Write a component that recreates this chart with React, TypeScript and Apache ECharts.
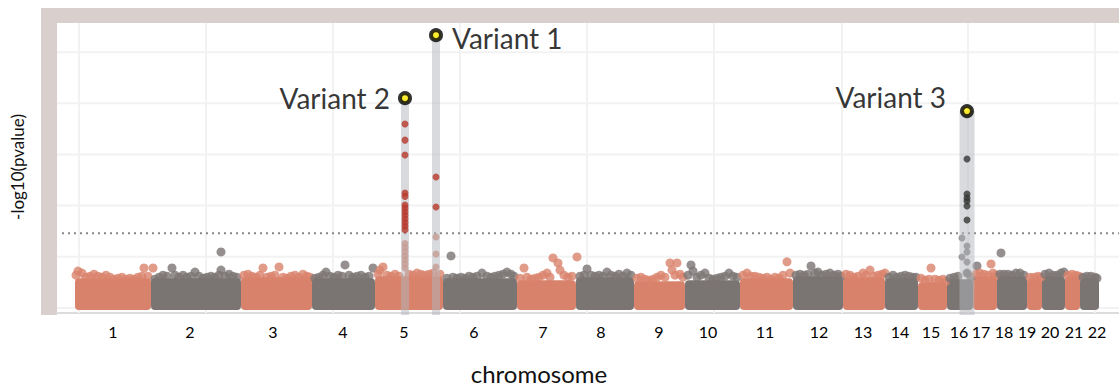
import React, { useEffect, useRef } from 'react';
import * as echarts from 'echarts';

// ---------- data (x = cumulative genome position in plot units, y = -log10(p)) ----------
const chromNames = ['1','2','3','4','5','6','7','8','9','10','11','12','13','14','15','16','17','18','19','20','21','22'];
const chromStart = [18,94,184,255,318,386,460,519,577,628,683,736,786,828,861,890,916,940,970,985,1008,1023];
const chromEnd = [94,184,255,318,386,460,519,577,628,683,736,786,828,861,890,916,940,970,985,1008,1023,1042];
// upper edge of the dense cloud of non-significant SNPs per chromosome
const chromBodyTop = [2.9,2.9,3.0,2.9,3.1,2.9,2.7,3.0,2.6,2.7,2.9,3.1,3.0,2.9,2.5,2.8,3.1,3.1,2.9,3.1,3.1,2.9];
const tickPos = [56,133,216,286,347,417,486,544,602,651,708,762,806,843,874,902,924,947,970,993,1017,1040];

// SNPs forming the ragged top of the cloud and standing out of it, per chromosome
const chromPoints: number[][][] = [
  [[19,3.2],[21,3.6],[25,3.4],[29,3.0],[33,3.1],[37,3.3],[41,3.1],[45,3.0],[49,3.2],[53,3.0],[57,2.8],[61,2.9],[65,3.0],[69,2.8],[73,2.9],[77,2.8],[81,3.0],[85,3.1],[87,3.9],[91,3.1],[96,3.9]],
  [[98,2.8],[102,3.0],[106,3.2],[110,3.1],[115,3.9],[118,3.2],[122,3.0],[126,3.2],[130,3.0],[134,3.1],[138,3.5],[142,3.1],[146,2.9],[150,3.0],[154,3.1],[158,3.0],[162,3.2],[164,3.7],[164,5.47],[168,3.1],[172,3.3],[176,3.1],[180,3.0]],
  [[187,3.2],[191,3.3],[195,3.1],[199,3.0],[203,3.2],[206,3.9],[210,3.0],[214,3.1],[218,3.2],[222,4.0],[226,3.0],[230,2.9],[234,3.1],[238,3.2],[242,3.0],[246,3.3],[250,3.1],[253,3.0]],
  [[258,2.9],[262,3.0],[266,3.2],[269,3.5],[273,3.1],[277,3.0],[281,3.2],[285,3.1],[288,4.2],[292,3.2],[296,3.0],[300,3.1],[304,3.2],[308,3.0],[312,3.1],[316,3.9]],
  [[321,3.3],[323,3.7],[326,4.0],[330,3.2],[334,3.1],[338,3.3],[342,3.1],[352,3.3],[356,3.2],[360,3.4],[364,3.3],[368,3.2],[372,3.3],[376,3.4],[383,3.3]],
  [[390,2.9],[394,5.08],[396,3.0],[400,2.9],[404,3.0],[408,2.9],[412,3.1],[416,3.0],[420,3.1],[425,3.4],[430,3.1],[434,3.0],[438,3.1],[442,3.2],[446,3.3],[450,3.5],[454,3.3],[457,3.1]],
  [[463,2.9],[467,3.9],[470,3.0],[474,2.8],[478,2.9],[482,3.0],[486,3.2],[490,3.4],[493,3.0],[496,4.88],[501,4.4],[503,3.7],[507,3.2],[511,3.0],[515,3.1],[520,4.98]],
  [[523,3.1],[527,3.2],[530,3.8],[534,3.2],[538,3.1],[542,3.2],[546,3.1],[550,3.5],[554,3.2],[558,3.1],[562,3.3],[566,3.1],[570,3.4],[574,3.2]],
  [[580,2.9],[584,3.0],[588,2.8],[592,2.7],[596,2.8],[600,3.0],[604,3.2],[608,3.0],[613,4.4],[615,3.7],[620,4.4],[618,3.2],[623,3.3],[626,3.0]],
  [[631,3.2],[634,4.2],[636,3.6],[640,3.0],[644,3.2],[648,3.4],[652,2.9],[656,2.8],[660,2.9],[664,3.0],[668,3.1],[672,3.4],[676,3.1],[680,3.0]],
  [[686,3.2],[690,3.4],[694,3.1],[698,3.1],[702,3.0],[706,2.9],[710,3.0],[714,2.8],[718,3.0],[722,2.9],[726,3.2],[730,4.5],[733,3.4]],
  [[739,3.2],[743,3.3],[747,3.2],[751,3.3],[754,4.1],[758,3.4],[761,3.5],[765,3.2],[769,3.3],[773,3.4],[777,3.2],[781,3.3],[784,3.1]],
  [[789,3.3],[793,3.2],[797,3.0],[801,3.1],[806,3.4],[809,3.2],[813,3.7],[817,3.1],[821,3.2],[825,3.3],[828,3.4]],
  [[832,3.0],[836,3.2],[840,3.0],[844,3.1],[848,3.2],[852,3.1],[856,3.0],[859,3.0]],
  [[864,2.9],[868,2.7],[872,2.8],[874,3.9],[878,2.8],[882,2.7],[886,2.8],[889,2.6]],
  [[893,2.9],[897,3.0],[901,3.1],[910,3.4],[914,3.0],[920,4.1]],
  [[919,3.3],[923,3.4],[927,3.3],[931,3.2],[934,4.3],[936,3.4],[939,3.2]],
  [[943,3.3],[944,5.37],[947,3.3],[951,3.3],[955,3.2],[959,3.4],[963,3.4],[967,3.2]],
  [[973,3.0],[977,3.0],[981,3.1],[984,3.0]],
  [[988,3.3],[992,3.4],[996,3.2],[1000,3.2],[1004,3.4],[1007,3.5]],
  [[1011,3.2],[1015,3.3],[1019,3.2],[1022,3.1]],
  [[1026,3.0],[1030,3.1],[1034,3.1],[1038,3.0],[1040,2.9]],
];

// sub-threshold SNPs inside the highlighted loci
const locusChr5Sub = [[348,6.3],[348,5.9],[348,5.5],[348,5.1],[348,4.7],[348,4.3],[348,3.9],[379,6.93],[379,5.27],[379,4.0]];
const locusChr16Sub = [[905,6.84],[910,6.05],[910,5.47],[905,4.98],[910,4.49],[910,3.4]];
// genome-wide significant SNPs
const sigChr5 = [[348,17.97],[348,16.4],[348,14.94],[348,11.23],[348,10.9],[348,10.06],[348,9.75],[348,9.4],[348,9.05],[348,8.7],[348,8.35],[348,8.0],[348,7.65],[379,12.79],[379,9.86]];
const sigChr16 = [[910,14.55],[910,11.13],[910,10.75],[910,10.45],[910,9.96],[910,8.59]];

const variantNames = ['Variant 1','Variant 2','Variant 3'];
const variantX = [379, 348, 910];
const variantY = [26.66, 20.5, 19.24];

const threshold = 7.3;
const gridX = [22,149,276,403,530,657,785,911,1038];
const gridY = [0,5,10,15,20,25];

// ---------- styles ----------
const ORANGE = '#d9826b';
const GREY = '#7a7473';
const RED = '#b8382c';
const DARK = '#363636';
const FRAME = '#d9d0cd';
const FONT = 'Lato, "Open Sans", sans-serif';
const BAND_W = [8, 8, 15];
const X_MIN = 0;
const X_MAX = 1062;
const Y_MIN = -0.5;
const Y_MAX = 27.85;
const BODY_BOTTOM = -0.2;
const BAND_BOTTOM = -0.7;
const THRESH_X0 = 5;

function chromColor(i: number) {
  return i % 2 === 0 ? ORANGE : GREY;
}

function buildOption(): any {
  const bodyData = chromStart.map((s, i) => [s, chromEnd[i], chromBodyTop[i], i]);
  const pointData: any[] = [];
  chromPoints.forEach((pts, i) => {
    pts.forEach((p) => pointData.push({ value: p, itemStyle: { color: chromColor(i) } }));
  });
  const subData: any[] = [
    ...locusChr5Sub.map((p) => ({ value: p, itemStyle: { color: ORANGE } })),
    ...locusChr16Sub.map((p) => ({ value: p, itemStyle: { color: GREY } })),
  ];
  const sigData: any[] = [
    ...sigChr5.map((p) => ({ value: p, itemStyle: { color: RED } })),
    ...sigChr16.map((p) => ({ value: p, itemStyle: { color: DARK } })),
  ];
  const labelPos: any[] = [
    { position: 'right', distance: 9, offset: [0, 3] },
    { position: 'left', distance: 8, offset: [0, 0] },
    { position: 'left', distance: 14, offset: [0, -14] },
  ];
  const variantData = variantX.map((x, i) => ({
    value: [x, variantY[i]],
    name: variantNames[i],
    label: {
      show: true,
      formatter: variantNames[i],
      position: labelPos[i].position,
      distance: labelPos[i].distance,
      offset: labelPos[i].offset,
      fontFamily: FONT,
      fontSize: 28,
      color: '#000',
    },
  }));

  const gridLineData = [
    ...gridX.map((x) => [0, x]),
    ...gridY.map((y) => [1, y]),
  ];

  return {
    animation: false,
    grid: { left: 57, right: 0, top: 23, bottom: 73 },
    xAxis: {
      type: 'value',
      min: X_MIN,
      max: X_MAX,
      axisLine: { show: true, onZero: false, lineStyle: { color: '#dcdcdc', width: 2 } },
      axisTick: { show: false },
      splitLine: { show: false },
      axisLabel: {
        customValues: tickPos,
        formatter: (v: number) => {
          let best = 0;
          tickPos.forEach((t, i) => {
            if (Math.abs(t - v) < Math.abs(tickPos[best] - v)) best = i;
          });
          return chromNames[best];
        },
        margin: 10,
        fontSize: 16,
        fontFamily: FONT,
        color: '#000',
      },
    },
    yAxis: {
      type: 'value',
      min: Y_MIN,
      max: Y_MAX,
      axisLine: { show: false },
      axisTick: { show: false },
      axisLabel: { show: false },
      splitLine: { show: false },
    },
    graphic: [
      { type: 'rect', shape: { x: 41, y: 8, width: 1078, height: 15 }, style: { fill: FRAME }, silent: true },
      { type: 'rect', shape: { x: 41, y: 8, width: 16, height: 307 }, style: { fill: FRAME }, silent: true },
      {
        type: 'text',
        x: 17,
        y: 167,
        rotation: Math.PI / 2,
        style: {
          text: '-log10(pvalue)',
          x: 0,
          y: 0,
          align: 'center',
          verticalAlign: 'middle',
          textAlign: 'center',
          textVerticalAlign: 'middle',
          fontSize: 17,
          fontFamily: FONT,
          fill: '#111',
        },
      },
      {
        type: 'text',
        x: 539,
        y: 373,
        style: {
          text: 'chromosome',
          x: 0,
          y: 0,
          align: 'center',
          verticalAlign: 'middle',
          textAlign: 'center',
          textVerticalAlign: 'middle',
          fontSize: 24,
          lineHeight: 24,
          fontFamily: FONT,
          fill: '#111',
        },
      },
    ],
    series: [
      // background grid lines
      {
        type: 'custom',
        z: 1,
        silent: true,
        data: gridLineData,
        encode: { x: 1 },
        renderItem: (params: any, api: any) => {
          const kind = api.value(0);
          const v = api.value(1);
          let p1, p2;
          if (kind === 0) {
            p1 = api.coord([v, Y_MIN]);
            p2 = api.coord([v, Y_MAX]);
          } else {
            p1 = api.coord([X_MIN, v]);
            p2 = api.coord([X_MAX, v]);
          }
          return {
            type: 'line',
            shape: { x1: p1[0], y1: p1[1], x2: p2[0], y2: p2[1] },
            style: { stroke: '#f2f2f2', lineWidth: 2 },
          };
        },
      },
      // significance threshold
      {
        type: 'custom',
        z: 2,
        silent: true,
        data: [[threshold]],
        encode: { y: 0 },
        renderItem: (params: any, api: any) => {
          const t = api.value(0);
          const p1 = api.coord([THRESH_X0, t]);
          const p2 = api.coord([X_MAX, t]);
          return {
            type: 'line',
            shape: { x1: p1[0], y1: p1[1], x2: p2[0], y2: p2[1] },
            style: { stroke: '#888888', lineWidth: 2, lineDash: [2, 4] },
          };
        },
      },
      // dense SNP cloud per chromosome
      {
        type: 'custom',
        z: 3,
        silent: true,
        data: bodyData,
        encode: { x: [0, 1], y: 2 },
        renderItem: (params: any, api: any) => {
          const s = api.value(0);
          const e = api.value(1);
          const t = api.value(2);
          const idx = api.value(3);
          const p1 = api.coord([s, t]);
          const p2 = api.coord([e, BODY_BOTTOM]);
          return {
            type: 'rect',
            shape: { x: p1[0], y: p1[1], width: p2[0] - p1[0], height: p2[1] - p1[1], r: 4 },
            style: { fill: chromColor(idx) },
          };
        },
      },
      {
        type: 'scatter',
        z: 4,
        silent: true,
        symbolSize: 9,
        data: pointData,
      },
      {
        type: 'scatter',
        z: 4,
        silent: true,
        symbolSize: 7,
        data: subData,
      },
      // highlighted loci
      {
        type: 'custom',
        z: 5,
        silent: true,
        clip: false,
        data: variantX.map((x, i) => [x, variantY[i], i]),
        encode: { x: 0, y: 1 },
        renderItem: (params: any, api: any) => {
          const x = api.value(0);
          const y = api.value(1);
          const idx = api.value(2);
          const w = BAND_W[idx];
          const p1 = api.coord([x, y]);
          const p2 = api.coord([x, BAND_BOTTOM]);
          return {
            type: 'rect',
            shape: { x: p1[0] - w / 2, y: p1[1], width: w, height: p2[1] - p1[1] },
            style: { fill: 'rgba(177,181,187,0.5)' },
          };
        },
      },
      {
        type: 'scatter',
        z: 6,
        silent: true,
        symbolSize: 7,
        data: sigData,
      },
      {
        type: 'scatter',
        z: 7,
        silent: true,
        symbolSize: 10,
        itemStyle: { color: '#ffec00', borderColor: '#000', borderWidth: 4 },
        data: variantData,
      },
    ],
  };
}

export default function App() {
  const ref = useRef<HTMLDivElement>(null);
  useEffect(() => {
    document.body.style.margin = '0';
    const chart = echarts.init(ref.current as HTMLDivElement, null, { renderer: 'svg' });
    chart.setOption(buildOption());
    return () => chart.dispose();
  }, []);
  return <div ref={ref} style={{ width: 1119, height: 386 }} />;
}
